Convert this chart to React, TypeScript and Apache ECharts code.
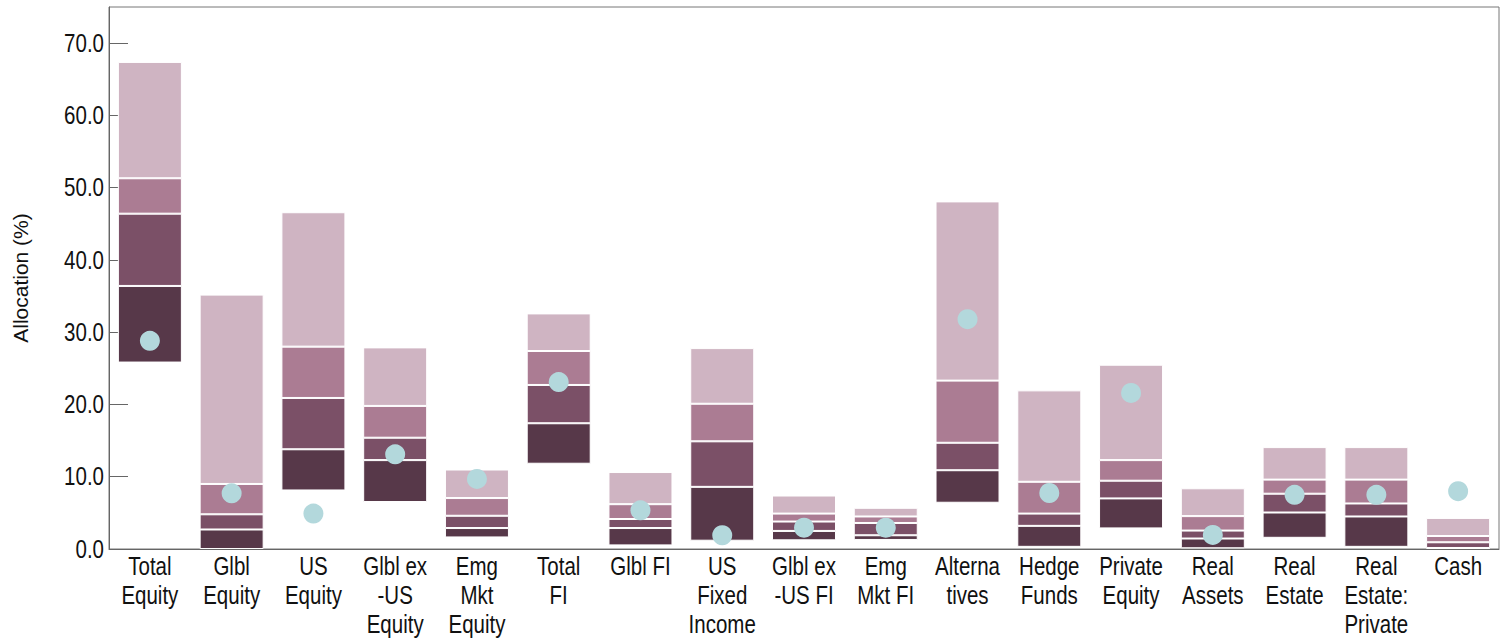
import React, { useEffect, useRef } from "react";
import * as echarts from "echarts";

const categories = [
  "Total\nEquity", "Glbl\nEquity", "US\nEquity", "Glbl ex\n-US\nEquity", "Emg\nMkt\nEquity",
  "Total\nFI", "Glbl FI", "US\nFixed\nIncome", "Glbl ex\n-US FI", "Emg\nMkt FI",
  "Alterna\ntives", "Hedge\nFunds", "Private\nEquity", "Real\nAssets", "Real\nEstate",
  "Real\nEstate:\nPrivate", "Cash",
];
const p5 = [25.8, 0.0, 8.1, 6.5, 1.6, 11.8, 0.5, 1.15, 1.2, 1.25, 6.4, 0.3, 2.85, 0.1, 1.55, 0.3, 0.0];
const p25 = [36.4, 2.7, 13.8, 12.3, 2.9, 17.4, 2.9, 8.6, 2.5, 1.9, 10.9, 3.2, 7.0, 1.45, 5.05, 4.5, 0.14];
const p50 = [46.4, 4.8, 20.9, 15.4, 4.6, 22.7, 4.15, 14.9, 3.8, 3.6, 14.7, 4.9, 9.45, 2.55, 7.65, 6.3, 0.93];
const p75 = [51.3, 9.0, 28.0, 19.8, 7.05, 27.4, 6.2, 20.1, 4.9, 4.5, 23.3, 9.3, 12.3, 4.55, 9.6, 9.6, 1.8];
const p95 = [67.4, 35.2, 46.6, 27.9, 11.0, 32.6, 10.65, 27.8, 7.4, 5.7, 48.1, 21.95, 25.5, 8.4, 14.1, 14.1, 4.3];
const portfolio = [28.8, 7.7, 4.9, 13.1, 9.7, 23.1, 5.35, 1.9, 2.95, 2.95, 31.8, 7.75, 21.6, 1.95, 7.5, 7.5, 8.0];
const yTicks = [0, 10, 20, 30, 40, 50, 60, 70];

const segColors = ["#573849", "#7b5067", "#ab7c93", "#cfb4c2"];
const FONT = "'Liberation Sans', Arial, sans-serif";
const LABEL_SIZE = 25;
const NARROW = 0.82;

export default function App() {
  const ref = useRef<HTMLDivElement>(null);
  useEffect(() => {
    if (!ref.current) return;
    const chart = echarts.init(ref.current, null, { renderer: "svg" });
    const diff = (a: number[], b: number[]) => a.map((v, i) => +(v - b[i]).toFixed(3));
    const segs = [diff(p25, p5), diff(p50, p25), diff(p75, p50), diff(p95, p75)];
    const barCommon = { type: "bar", stack: "r", barWidth: 64, silent: true };
    const gridBottomPx = 639 - 90;
    chart.setOption({
      animation: false,
      grid: { left: 109, right: 4, top: 7, bottom: 90, show: true, borderColor: "#777", borderWidth: 1 },
      xAxis: {
        type: "category",
        data: categories,
        axisLine: { lineStyle: { color: "#666", width: 1 } },
        axisTick: { show: false },
        axisLabel: { show: false },
      },
      yAxis: {
        type: "value",
        min: 0,
        max: 75,
        interval: 10,
        name: "Allocation (%)",
        nameLocation: "middle",
        nameGap: 78,
        nameTextStyle: { fontFamily: FONT, fontSize: 21, color: "#111" },
        axisLine: { show: true, lineStyle: { color: "#666" } },
        axisTick: { show: true, inside: true, length: 19, lineStyle: { color: "#666" }, customValues: yTicks },
        splitLine: { show: false },
        axisLabel: { show: false },
      },
      series: [
        { ...barCommon, name: "base", data: p5, itemStyle: { color: "transparent" } },
        ...segs.map((d, k) => ({
          ...barCommon,
          name: "s" + k,
          data: d,
          itemStyle: { color: segColors[k], borderColor: "#fff", borderWidth: 1 },
        })),
        {
          type: "scatter",
          name: "Portfolio",
          data: portfolio,
          symbolSize: 20,
          itemStyle: { color: "#b3d8dc", opacity: 1 },
          z: 5,
          silent: true,
        },
      ],
    });
    // Condensed axis labels (drawn as text scaled horizontally, positioned from the axes)
    const graphics: any[] = [];
    categories.forEach((c, i) => {
      const x = chart.convertToPixel({ xAxisIndex: 0 }, i) as number;
      graphics.push({
        type: "text",
        x,
        y: gridBottomPx + 3,
        scaleX: NARROW,
        silent: true,
        style: {
          text: c,
          x: 0,
          y: 0,
          align: "center",
          verticalAlign: "top",
          fontFamily: FONT,
          fontSize: LABEL_SIZE,
          lineHeight: 29,
          fill: "#111",
        },
      });
    });
    yTicks.forEach((v) => {
      const y = chart.convertToPixel({ yAxisIndex: 0 }, v) as number;
      graphics.push({
        type: "text",
        x: 104,
        y,
        scaleX: NARROW,
        silent: true,
        style: {
          text: v.toFixed(1),
          x: 0,
          y: 0,
          align: "right",
          verticalAlign: "middle",
          fontFamily: FONT,
          fontSize: LABEL_SIZE,
          fill: "#111",
        },
      });
    });
    chart.setOption({ graphic: graphics });
    return () => chart.dispose();
  }, []);
  return (
    <div
      ref={ref}
      style={{ position: "fixed", left: 0, top: 0, width: 1503, height: 639, background: "#fff" }}
    />
  );
}
